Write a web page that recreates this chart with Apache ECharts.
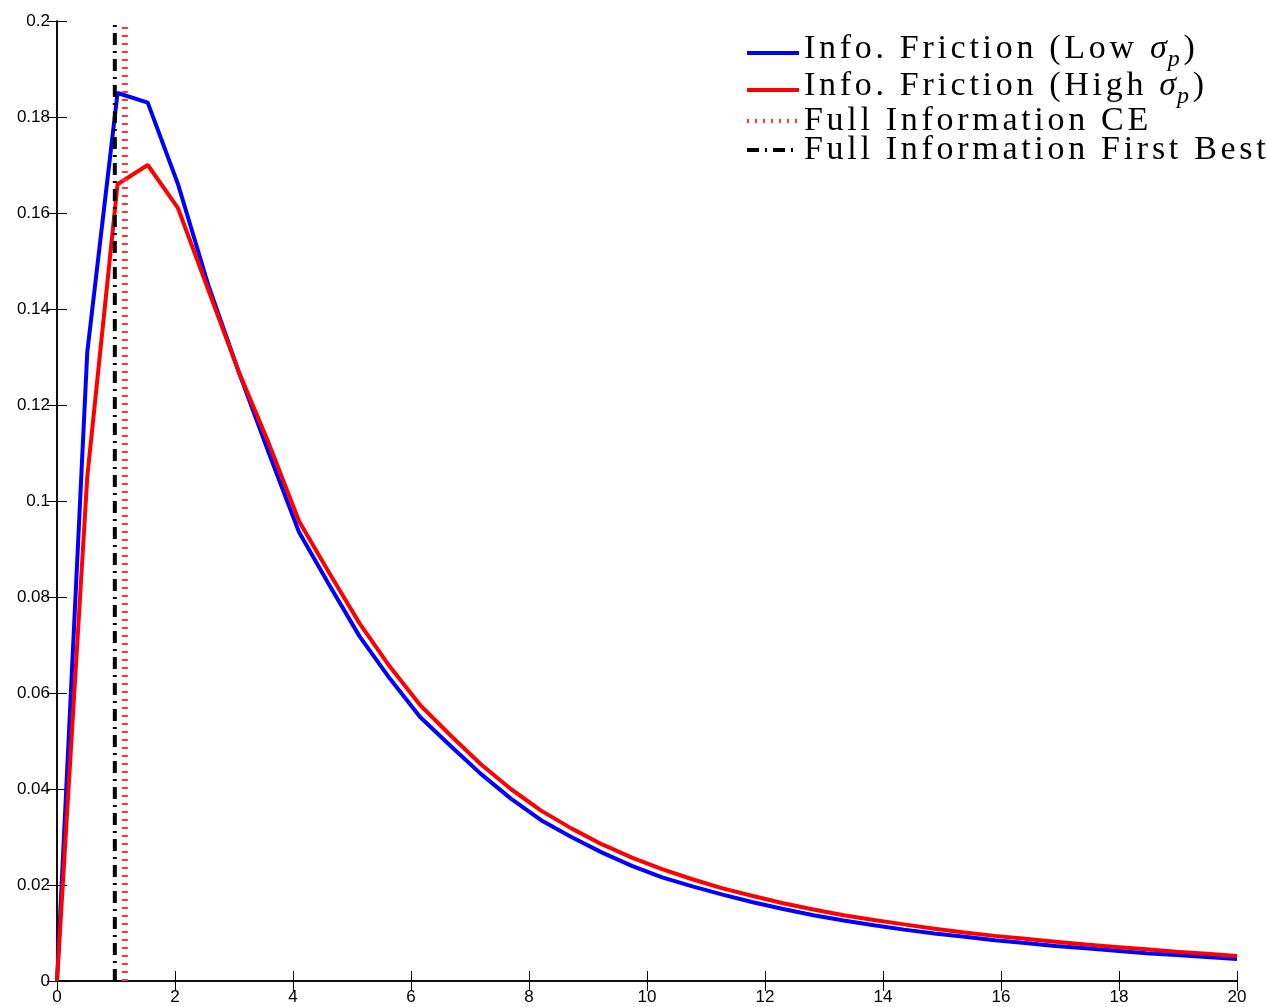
<!DOCTYPE html>
<html>
<head>
<meta charset="utf-8">
<script src="https://cdn.jsdelivr.net/npm/echarts@6/dist/echarts.min.js"></script>
<style>
  html, body { margin: 0; padding: 0; background: #fff; }
  #main { width: 1266px; height: 1007px; }
</style>
</head>
<body>
<div id="main"></div>
<script>
// x grid (40 points, 0..20)
var xValues = [0, 0.513, 1.026, 1.538, 2.051, 2.564, 3.077, 3.590, 4.103, 4.615,
    5.128, 5.641, 6.154, 6.667, 7.179, 7.692, 8.205, 8.718, 9.231, 9.744,
    10.256, 10.769, 11.282, 11.795, 12.308, 12.821, 13.333, 13.846, 14.359, 14.872,
    15.385, 15.897, 16.410, 16.923, 17.436, 17.949, 18.462, 18.974, 19.487, 20];
// Info. Friction (Low sigma_p)
var lowSigma = [0, 0.131, 0.185, 0.183, 0.166, 0.145, 0.127, 0.110, 0.0935, 0.0825,
    0.0718, 0.0630, 0.0550, 0.0490, 0.0432, 0.0380, 0.0335, 0.0300, 0.0268, 0.0240,
    0.0216, 0.0197, 0.0180, 0.0164, 0.0150, 0.0137, 0.0126, 0.0116, 0.0107, 0.0099,
    0.0092, 0.0085, 0.0079, 0.0073, 0.0068, 0.0063, 0.0058, 0.0054, 0.0050, 0.0046];
// Info. Friction (High sigma_p)
var highSigma = [0, 0.105, 0.166, 0.170, 0.161, 0.144, 0.127, 0.112, 0.0958, 0.0850,
    0.0745, 0.0655, 0.0575, 0.0512, 0.0452, 0.0400, 0.0355, 0.0318, 0.0285, 0.0257,
    0.0233, 0.0212, 0.0193, 0.0177, 0.0162, 0.0149, 0.0137, 0.0127, 0.0118, 0.0109,
    0.0101, 0.0094, 0.0088, 0.0082, 0.0076, 0.0071, 0.0066, 0.0061, 0.0057, 0.0052];
// vertical reference lines
var ceX = 1.15;
var firstBestX = 0.98;
var yRange = [0, 0.2];

var seriesNames = ['Info. Friction (Low σp)', 'Info. Friction (High σp)',
    'Full Information CE', 'Full Information First Best'];
// legend text pieces: [text, style]  (σ italic, p as subscript)
var legendParts = {
    'Info. Friction (Low σp)': [['Info. Friction (Low ', 'a'], ['σ', 's'], ['p', 'sub'], [')', 'a']],
    'Info. Friction (High σp)': [['Info. Friction (High ', 'a'], ['σ', 's'], ['p', 'sub'], [')', 'a']],
    'Full Information CE': [['Full Information CE', 't']],
    'Full Information First Best': [['Full Information First Best', 't']]
};
var legendTops = [51, 88, 119, 148];

function pairs(xs, ys) {
    var out = [];
    for (var i = 0; i < xs.length; i++) out.push([xs[i], ys[i]]);
    return out;
}

// MATLAB's latex text is spread out, so each letter gets its own spaced token
function spacedText(name) {
    var parts = legendParts[name];
    var s = '';
    for (var i = 0; i < parts.length; i++) {
        var chars = parts[i][0].split('');
        for (var j = 0; j < chars.length; j++) {
            s += '{' + parts[i][1] + '|' + chars[j] + '}';
        }
    }
    return s;
}

var chart = echarts.init(document.getElementById('main'), null, {renderer: 'canvas'});

var serifFont = 'Liberation Serif';
var fs = 34;
var ls = 3.7; // letter spacing
var legends = [];
for (var k = 0; k < seriesNames.length; k++) {
    legends.push({
        data: [seriesNames[k]],
        left: 745,
        top: legendTops[k] - (k < 2 ? 19 : 15), // rows with subscript are taller
        padding: 0,
        itemWidth: 52,
        itemHeight: 14,
        selectedMode: false,
        itemStyle: {opacity: 0},
        lineStyle: {width: 4},
        formatter: spacedText,
        textStyle: {
            rich: {
                t: {fontFamily: serifFont, fontSize: fs, color: '#000', lineHeight: 30, padding: [0, ls, 0, 0]},
                a: {fontFamily: serifFont, fontSize: fs, color: '#000', lineHeight: 30, padding: [0, ls, 8, 0]},
                s: {fontFamily: serifFont, fontSize: fs, fontStyle: 'italic', color: '#000', lineHeight: 30, padding: [0, 1, 8, 0]},
                sub: {fontFamily: serifFont, fontSize: 24, fontStyle: 'italic', color: '#000', lineHeight: 30, padding: [13, ls, 0, 0]}
            }
        }
    });
}

var axisLabelStyle = {color: '#000', fontFamily: 'Liberation Sans', fontSize: 17};

var option = {
    backgroundColor: '#fff',
    animation: false,
    grid: {left: 57, right: 29, top: 21, bottom: 26, outerBoundsMode: 'none'},
    legend: legends,
    xAxis: [{
        type: 'value', min: 0, max: 20, interval: 2, position: 'bottom',
        axisLine: {lineStyle: {color: '#000', width: 1.5}},
        axisTick: {inside: true, length: 10, lineStyle: {color: '#000'}},
        splitLine: {show: false},
        axisLabel: Object.assign({margin: 8}, axisLabelStyle)
    }, {
        type: 'value', min: 0, max: 20, interval: 2, position: 'top',
        axisLine: {lineStyle: {color: '#000', width: 1.5}},
        axisTick: {inside: true, length: 10, lineStyle: {color: '#000'}},
        splitLine: {show: false},
        axisLabel: {show: false}
    }],
    yAxis: [{
        type: 'value', min: 0, max: 0.2, interval: 0.02, position: 'left',
        axisLine: {show: true, lineStyle: {color: '#000', width: 1.5}},
        axisTick: {show: true, inside: true, length: 10, lineStyle: {color: '#000'}},
        splitLine: {show: false},
        axisLabel: Object.assign({margin: 7}, axisLabelStyle)
    }, {
        type: 'value', min: 0, max: 0.2, interval: 0.02, position: 'right',
        axisLine: {show: true, lineStyle: {color: '#000', width: 1.5}},
        axisTick: {show: true, inside: true, length: 10, lineStyle: {color: '#000'}},
        splitLine: {show: false},
        axisLabel: {show: false}
    }],
    series: [{
        name: seriesNames[0],
        type: 'line',
        symbol: 'none',
        color: '#0000ff',
        lineStyle: {color: '#0000ff', width: 4},
        data: pairs(xValues, lowSigma)
    }, {
        name: seriesNames[1],
        type: 'line',
        symbol: 'none',
        color: '#ff0000',
        lineStyle: {color: '#ff0000', width: 4},
        data: pairs(xValues, highSigma)
    }, {
        name: seriesNames[2],
        type: 'line',
        symbol: 'none',
        color: '#ff3333',
        lineStyle: {color: '#ff3333', width: 6, type: [2, 6]},
        data: [[ceX, yRange[0]], [ceX, yRange[1]]]
    }, {
        name: seriesNames[3],
        type: 'line',
        symbol: 'none',
        color: '#000',
        lineStyle: {color: '#000', width: 4, type: [12, 6, 2, 6]},
        data: [[firstBestX, yRange[0]], [firstBestX, yRange[1]]]
    }]
};
chart.setOption(option);
</script>
</body>
</html>
